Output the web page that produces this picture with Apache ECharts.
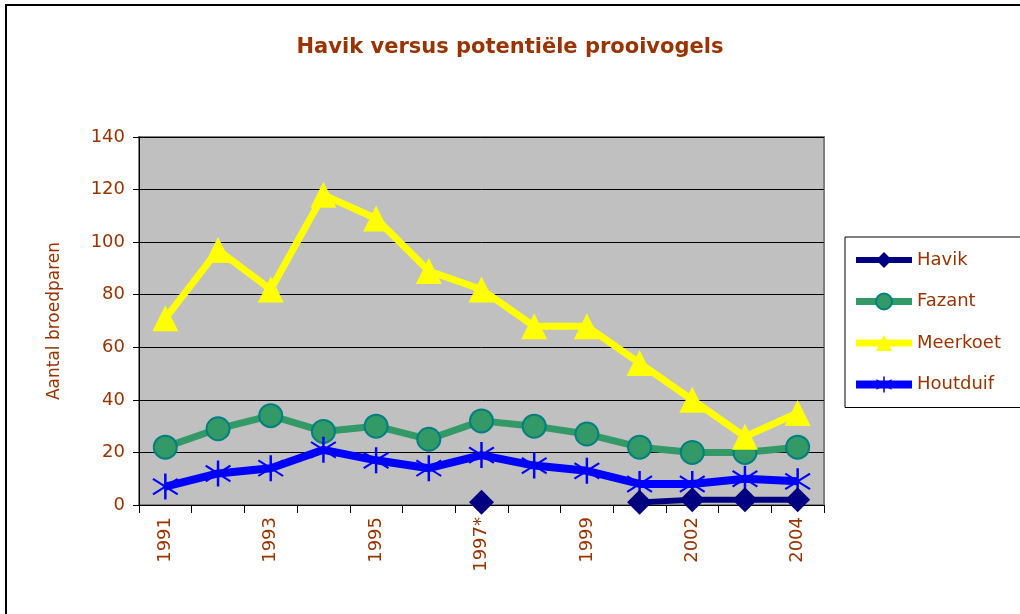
<!DOCTYPE html>
<html>
<head>
<meta charset="utf-8">
<script src="https://cdn.jsdelivr.net/npm/echarts@6/dist/echarts.min.js"></script>
<style>
  html, body { margin: 0; padding: 0; background: #fff; }
  #chart { width: 1020px; height: 614px; }
</style>
</head>
<body>
<div id="chart"></div>
<script>
// jaren (2000 ontbreekt in de reeks)
const years = ["1991", "1992", "1993", "1994", "1995", "1996", "1997*", "1998", "1999", "2001", "2002", "2003", "2004"];
const havik = [null, null, null, null, null, null, 1, null, null, 1, 2, 2, 2];
const fazant = [22, 29, 34, 28, 30, 25, 32, 30, 27, 22, 20, 20, 22];
const meerkoet = [71, 97, 82, 118, 109, 89, 82, 68, 68, 54, 40, 26, 35];
const houtduif = [7, 12, 14, 21, 17, 14, 19, 15, 13, 8, 8, 10, 9];

const brown = "#993300";
const font = '"Comic Sans MS", "DejaVu Sans", sans-serif';
const asterisk =
  "path://M9.1,0 L10.9,0 L10.9,20 L9.1,20 Z M1.44,3.33 L19.44,15.33 L18.56,16.67 L0.56,4.67 Z M0.56,15.33 L18.56,3.33 L19.44,4.67 L1.44,16.67 Z";

let myChart = echarts.init(document.getElementById("chart")),
  option;

option = {
  animation: false,
  graphic: [
    {
      type: "rect",
      shape: { x: 6, y: 5, width: 1100, height: 700 },
      style: { fill: "none", stroke: "#000", lineWidth: 2 },
      z: -1
    }
  ],
  title: {
    text: "Havik versus potentiële prooivogels",
    left: "center",
    top: 32,
    textStyle: { color: brown, fontSize: 21, fontWeight: "bold", fontFamily: font }
  },
  legend: {
    orient: "vertical",
    left: 845,
    top: 237,
    padding: [14, 40, 14, 7],
    itemWidth: 56,
    itemHeight: 20,
    itemGap: 23.5,
    borderColor: "#000",
    borderWidth: 1,
    textStyle: { color: brown, fontSize: 18, fontFamily: font },
    data: [
      { name: "Havik", lineStyle: { width: 6 } },
      { name: "Fazant", lineStyle: { width: 7 } },
      { name: "Meerkoet", lineStyle: { width: 7 } },
      { name: "Houtduif", lineStyle: { width: 8 } }
    ]
  },
  grid: {
    left: 139,
    top: 137,
    right: 196,
    bottom: 109,
    show: true,
    backgroundColor: "#C0C0C0",
    borderColor: "#808080",
    borderWidth: 2
  },
  xAxis: {
    type: "category",
    data: years,
    boundaryGap: true,
    axisLine: { lineStyle: { color: "#000", width: 1 } },
    axisTick: { show: true, interval: 0, length: 8, lineStyle: { color: "#000" } },
    axisLabel: {
      interval: 1,
      rotate: 90,
      color: brown,
      fontSize: 18,
      fontFamily: font,
      margin: 12
    }
  },
  yAxis: {
    type: "value",
    min: 0,
    max: 140,
    interval: 20,
    name: "Aantal broedparen",
    nameLocation: "middle",
    nameGap: 76,
    nameTextStyle: { color: brown, fontSize: 17, fontFamily: font },
    axisLine: { show: true, lineStyle: { color: "#000" } },
    axisTick: { show: true, length: 6, lineStyle: { color: "#000" } },
    axisLabel: { color: brown, fontSize: 18, fontFamily: font, margin: 14 },
    splitLine: { lineStyle: { color: "#000", width: 1 } }
  },
  series: [
    {
      name: "Havik",
      type: "line",
      data: havik,
      connectNulls: false,
      symbol: "diamond",
      symbolSize: 25,
      lineStyle: { color: "#000080", width: 6 },
      itemStyle: { color: "#000080" },
      z: 5
    },
    {
      name: "Fazant",
      type: "line",
      data: fazant,
      symbol: "circle",
      symbolSize: 23,
      lineStyle: { color: "#339966", width: 7 },
      itemStyle: { color: "#339966", borderColor: "#008080", borderWidth: 2 },
      z: 3
    },
    {
      name: "Meerkoet",
      type: "line",
      data: meerkoet,
      symbol: "triangle",
      symbolSize: 26,
      lineStyle: { color: "#FFFF00", width: 7 },
      itemStyle: { color: "#FFFF00" },
      z: 4
    },
    {
      name: "Houtduif",
      type: "line",
      data: houtduif,
      symbol: asterisk,
      symbolSize: [26, 26],
      lineStyle: { color: "#0000FF", width: 8 },
      itemStyle: { color: "#0000FF" },
      z: 4
    }
  ]
};

if (option && typeof option === "object") myChart.setOption(option);
window.addEventListener("resize", function () {
  myChart.resize();
});
</script>
</body>
</html>
